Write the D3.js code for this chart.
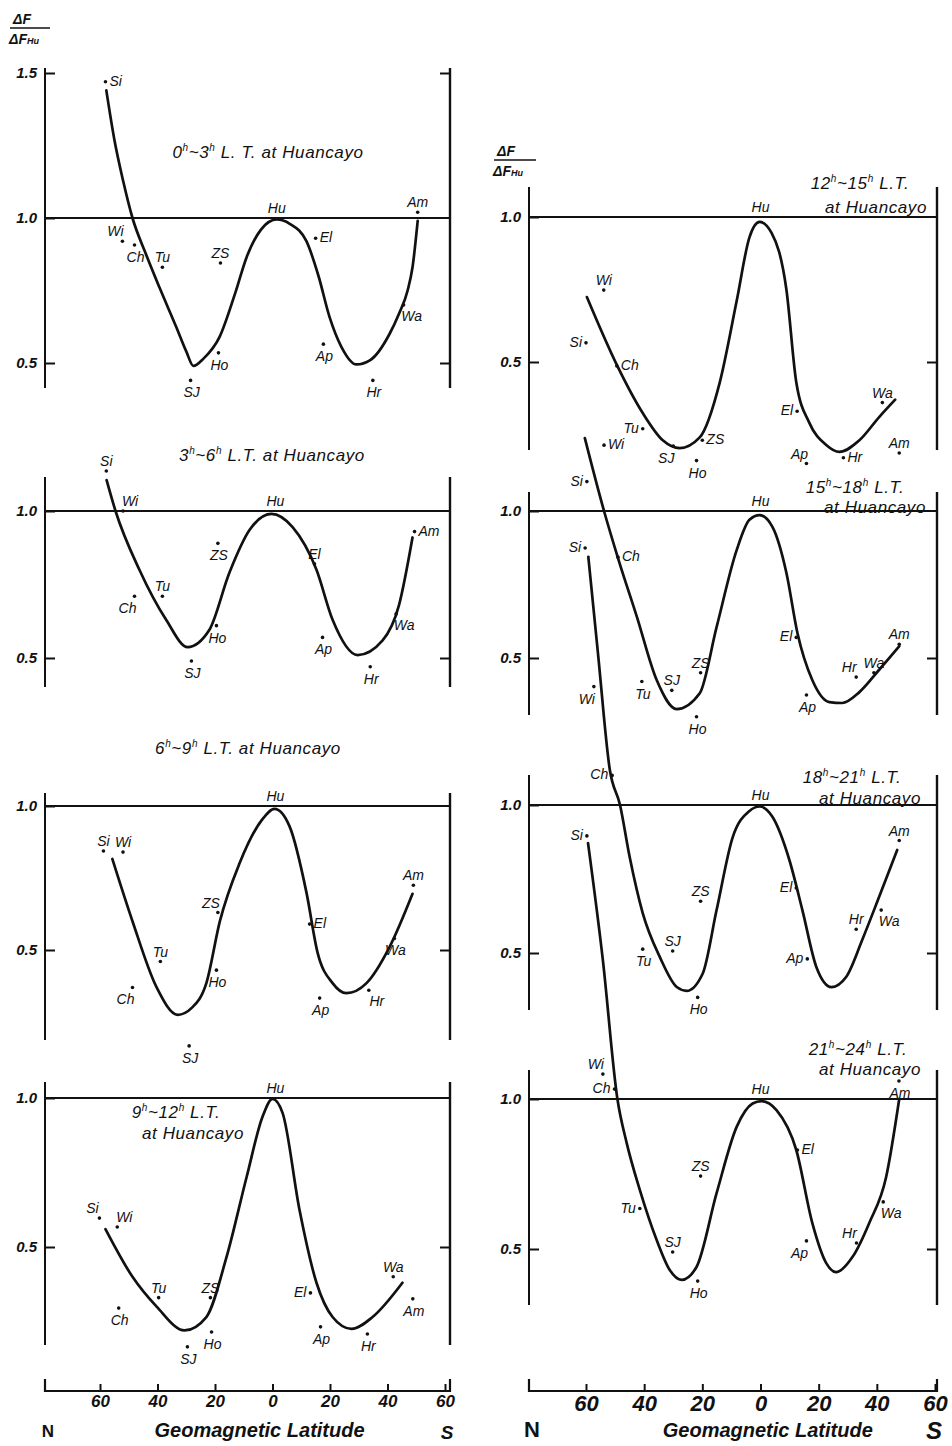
<!DOCTYPE html>
<html>
<head>
<meta charset="utf-8">
<script src="https://cdn.jsdelivr.net/npm/d3@7"></script>
<style>
  body { margin: 0; background: #fff; }
  text { font-family: "Liberation Sans", "DejaVu Sans", sans-serif; font-style: italic; fill: #111; }
</style>
</head>
<body>
<div id="chart"></div>
<script>
"use strict";

// station order used by every panel
var stations = ["Si", "Wi", "Ch", "Tu", "SJ", "Ho", "ZS", "Hu", "El", "Ap", "Hr", "Wa", "Am"];
// local time ranges at Huancayo, one per panel
var localTimes = [[0, 3], [3, 6], [6, 9], [9, 12], [12, 15], [15, 18], [18, 21], [21, 24]];
var timeLabels = ["L. T.", "L.T.", "L.T.", "L.T.", "L.T.", "L.T.", "L.T.", "L.T."];
var latTicks = [60, 40, 20, 0, -20, -40, -60];

// station points (geomagnetic latitude, N positive) and dF/dF_Hu
var lt00Lat = [58.1, 52.2, 48, 38.3, 28.5, 18.8, 18.1, -1.5, -15, -17.7, -34.9, -45.6, -50.5];
var lt00Val = [1.47, 0.92, 0.907, 0.83, 0.44, 0.535, 0.845, 1.0, 0.93, 0.565, 0.44, 0.70, 1.02];
var lt03Lat = [57.8, 52, 48, 38.3, 28.2, 19.5, 19, -1, -14.6, -17.4, -34, -43, -49.4];
var lt03Val = [1.136, 1.0, 0.71, 0.71, 0.49, 0.61, 0.89, 1.0, 0.82, 0.57, 0.47, 0.65, 0.93];
var lt06Lat = [58.8, 52, 48.7, 39, 29, 19.5, 19, -1, -12.9, -16.4, -33.5, -42.4, -49];
var lt06Val = [0.844, 0.84, 0.37, 0.46, 0.167, 0.43, 0.63, 1.0, 0.59, 0.333, 0.36, 0.54, 0.725];
var lt09Lat = [60.2, 54, 53.5, 39.6, 29.6, 21.2, 21.6, -1, -13.2, -16.7, -33, -42, -48.8];
var lt09Val = [0.597, 0.567, 0.295, 0.33, 0.165, 0.215, 0.33, 1.0, 0.346, 0.232, 0.208, 0.40, 0.326];
var lt12Lat = [60, 53.9, 49.4, 40.5, 30, 22, 20, 0, -12.6, -15.8, -28.5, -41.9, -47.7];
var lt12Val = [0.566, 0.748, 0.486, 0.27, 0.21, 0.16, 0.23, 1.0, 0.33, 0.15, 0.17, 0.36, 0.186];
var lt15Lat = [59.7, 53.8, 49, 40.8, 30.5, 22, 20.6, 0, -12.3, -15.8, -32.9, -39, -47.7];
var lt15Val = [1.10, 1.224, 0.843, 0.42, 0.39, 0.30, 0.45, 1.0, 0.57, 0.374, 0.435, 0.45, 0.547];
var lt18Lat = [60.3, 57.3, 51, 40.5, 30.2, 21.6, 20.6, 0, -12.3, -16.1, -32.9, -41.5, -47.7];
var lt18Val = [1.868, 1.40, 1.10, 0.513, 0.507, 0.35, 0.675, 1.0, 0.72, 0.48, 0.58, 0.645, 0.88];
var lt21Lat = [59.7, 54.2, 50.2, 41.5, 30.2, 21.6, 20.6, 0, -12.7, -15.8, -33, -42.2, -47.6];
var lt21Val = [1.877, 1.083, 1.033, 0.635, 0.49, 0.393, 0.743, 1.0, 0.83, 0.527, 0.52, 0.657, 1.06];

// hand drawn smooth curves, read as (latitude, value) points
var lt00Curve = [[57.8,1.44],[55,1.27],[52,1.13],[48.7,1.0],[44,0.875],[39.3,0.76],[33.3,0.62],[30,0.54],[27.5,0.49],[24,0.515],[18.4,0.59],[13,0.74],[9,0.865],[4,0.96],[-1.5,0.995],[-6,0.98],[-11.8,0.92],[-16,0.80],[-19.8,0.66],[-24,0.555],[-29.2,0.495],[-34,0.51],[-40.7,0.60],[-44,0.67],[-47,0.75],[-48.7,0.83],[-50.5,0.99]];
var lt03Curve = [[57.7,1.105],[54.6,1.0],[46.3,0.80],[37,0.63],[29.5,0.537],[22,0.595],[15,0.79],[8,0.935],[0.4,0.99],[-7,0.945],[-15.3,0.80],[-20.9,0.63],[-29.6,0.51],[-38.3,0.56],[-44,0.68],[-48.7,0.91]];
var lt06Curve = [[55.7,0.816],[48.7,0.60],[40.3,0.37],[33,0.275],[28,0.30],[23,0.385],[18.3,0.60],[11.5,0.80],[3.8,0.95],[-0.7,0.99],[-5.9,0.93],[-11.8,0.70],[-15.7,0.49],[-20.9,0.385],[-25.7,0.35],[-32.7,0.385],[-40.7,0.51],[-48.7,0.695]];
var lt09Curve = [[58.1,0.56],[48.7,0.40],[40.3,0.30],[30.6,0.22],[23,0.265],[16,0.466],[9,0.735],[3.5,0.936],[0,0.997],[-3.5,0.95],[-9.4,0.624],[-15.3,0.38],[-20.9,0.265],[-27.5,0.225],[-34.8,0.265],[-45.2,0.38]];
var lt12Curve = [[59.7,0.724],[49.4,0.49],[40.5,0.324],[33.6,0.23],[27.8,0.203],[20.9,0.24],[14,0.43],[8.2,0.71],[3.8,0.93],[0.3,0.983],[-3.8,0.945],[-8.9,0.75],[-12.3,0.43],[-16.8,0.29],[-22.6,0.214],[-27.1,0.19],[-34,0.23],[-40.8,0.31],[-46.3,0.37]];
var lt15Curve = [[60.4,1.248],[53.8,1.0],[49,0.84],[42.5,0.64],[35.7,0.425],[28.8,0.326],[20.9,0.38],[15.1,0.605],[8.2,0.867],[3.8,0.97],[0.3,0.986],[-4.1,0.946],[-8.9,0.79],[-12.7,0.585],[-17.8,0.425],[-23.7,0.35],[-28.1,0.347],[-34,0.384],[-40.8,0.46],[-47.7,0.54]];
var lt18Curve = [[59.2,1.838],[55.9,1.514],[51.8,1.118],[48.3,1.0],[45,0.825],[40.5,0.635],[34.6,0.486],[28.8,0.385],[25.4,0.372],[19.9,0.43],[15.1,0.645],[9.6,0.89],[3.8,0.98],[0.3,0.995],[-4.1,0.96],[-9.9,0.815],[-14.4,0.645],[-19.2,0.453],[-24.4,0.385],[-29.5,0.42],[-35,0.545],[-40.8,0.69],[-47,0.848]];
var lt21Curve = [[59.3,1.853],[54.2,1.463],[49.2,1.0],[46,0.853],[41.5,0.697],[35.7,0.53],[31.2,0.43],[27.1,0.397],[22,0.44],[15.1,0.686],[8.2,0.907],[2.7,0.985],[-0.3,0.993],[-5.5,0.963],[-12.3,0.83],[-17.8,0.587],[-22.6,0.453],[-26,0.423],[-31.6,0.473],[-37.4,0.587],[-43.2,0.74],[-47.7,1.0]];

// where each station name sits relative to its dot
var lt00Pos = ["r","al","b","a","b","b","a","a","r","b","b","br","a"];
var lt03Pos = ["a","ar","bl","a","b","b","b","a","a","b","b","br","r"];
var lt06Pos = ["a","a","bl","a","b","b","al","a","r","b","br","b","a"];
var lt09Pos = ["al","ar","b","a","b","b","a","a","l","b","b","a","b"];
var lt12Pos = ["l","a","r","l","bl","b","r","a","l","al","r","a","a"];
var lt15Pos = ["l","r","r","b","a","b","a","a","l","b","al","a","a"];
var lt18Pos = ["l","bl","l","b","a","b","a","a","l","l","a","br","a"];
var lt21Pos = ["l","al","l","l","a","b","a","a","r","bl","al","br","b"];

// panel frames (pixel layout)
var panels = [
  {lat: lt00Lat, val: lt00Val, curve: lt00Curve, pos: lt00Pos, col: 0, y10: 218, y05: 363, top: 68, bottom: 388, ticks: [1.5, 1.0, 0.5], title: [[268, 158]]},
  {lat: lt03Lat, val: lt03Val, curve: lt03Curve, pos: lt03Pos, col: 0, y10: 511, y05: 658, top: 477, bottom: 687, ticks: [1.0, 0.5], title: [[272, 461]]},
  {lat: lt06Lat, val: lt06Val, curve: lt06Curve, pos: lt06Pos, col: 0, y10: 806, y05: 950, top: 793, bottom: 1040, ticks: [1.0, 0.5], title: [[248, 754]]},
  {lat: lt09Lat, val: lt09Val, curve: lt09Curve, pos: lt09Pos, col: 0, y10: 1098, y05: 1247, top: 1082, bottom: 1345, ticks: [1.0, 0.5], title: [[176, 1118], [193, 1139]]},
  {lat: lt12Lat, val: lt12Val, curve: lt12Curve, pos: lt12Pos, col: 1, y10: 217, y05: 362, top: 187, bottom: 450, ticks: [1.0, 0.5], title: [[860, 189], [876, 213]]},
  {lat: lt15Lat, val: lt15Val, curve: lt15Curve, pos: lt15Pos, col: 1, y10: 511, y05: 658, top: 492, bottom: 715, ticks: [1.0, 0.5], title: [[855, 493], [875, 513]]},
  {lat: lt18Lat, val: lt18Val, curve: lt18Curve, pos: lt18Pos, col: 1, y10: 805, y05: 953, top: 775, bottom: 1010, ticks: [1.0, 0.5], title: [[852, 783], [870, 804]]},
  {lat: lt21Lat, val: lt21Val, curve: lt21Curve, pos: lt21Pos, col: 1, y10: 1099, y05: 1249, top: 1070, bottom: 1305, ticks: [1.0, 0.5], title: [[858, 1055], [870, 1075]]}
];

var cols = [
  {x: d3.scaleLinear().domain([60, -60]).range([100, 445]), left: 45, right: 450, axisY: 1391,
   labelSize: 17, nameLat: 4.5, ylab: [22, 28, 10, 50]},
  {x: d3.scaleLinear().domain([60, -60]).range([586, 935]), left: 529, right: 937, axisY: 1391,
   labelSize: 22, nameLat: -2.5, ylab: [506, 160, 494, 536]}
];

var offs = {a: [0, -5, "middle"], b: [1, 17, "middle"], l: [-4, 4, "end"], r: [4, 4, "start"],
            al: [-7, -5, "middle"], ar: [7, -5, "middle"], bl: [-7, 17, "middle"], br: [8, 16, "middle"]};

var svg = d3.select("#chart").append("svg")
  .attr("width", 952).attr("height", 1446)
  .style("background", "#fff");

function hourTitle(g, t, lt, cx, cy, oneLine) {
  var txt = g.append("text").attr("x", cx).attr("y", cy)
    .attr("text-anchor", "middle").style("font-size", "17px").style("letter-spacing", "0.6px");
  txt.append("tspan").text(t[0]);
  txt.append("tspan").attr("dy", -7).style("font-size", "10px").text("h");
  txt.append("tspan").attr("dy", 7).text("~" + t[1]);
  txt.append("tspan").attr("dy", -7).style("font-size", "10px").text("h");
  txt.append("tspan").attr("dy", 7).text(" " + lt + (oneLine ? " at Huancayo" : ""));
}

panels.forEach(function(p, i) {
  var c = cols[p.col];
  var x = c.x;
  var y = d3.scaleLinear().domain([0.5, 1.0]).range([p.y05, p.y10]);
  var g = svg.append("g");

  // left axis with inner ticks
  g.append("line").attr("x1", c.left).attr("x2", c.left).attr("y1", p.top).attr("y2", p.bottom)
    .attr("stroke", "#111").attr("stroke-width", 2);
  g.append("g").attr("transform", "translate(" + c.left + ",0)")
    .call(d3.axisLeft(y).tickValues(p.ticks).tickSizeInner(-10).tickSizeOuter(0).tickPadding(8)
      .tickFormat(d3.format(".1f")))
    .call(function(a) {
      a.select(".domain").remove();
      a.selectAll("line").attr("stroke", "#111").attr("stroke-width", 2);
      a.selectAll("text").style("font-size", "15px").style("font-weight", "bold")
        .style("font-family", '"Liberation Sans", sans-serif').attr("fill", "#111");
    });

  // right axis
  g.append("line").attr("x1", c.right).attr("x2", c.right).attr("y1", p.top).attr("y2", p.bottom)
    .attr("stroke", "#111").attr("stroke-width", 2.4);
  g.append("g").attr("transform", "translate(" + c.right + ",0)")
    .call(d3.axisRight(y).tickValues(p.ticks.filter(function(d) { return d !== 1.0; }))
      .tickSizeInner(-10).tickSizeOuter(0).tickFormat(""))
    .call(function(a) {
      a.select(".domain").remove();
      a.selectAll("line").attr("stroke", "#111").attr("stroke-width", 2);
    });

  // reference line at 1.0
  g.append("line").attr("x1", c.left).attr("x2", c.right).attr("y1", y(1.0)).attr("y2", y(1.0))
    .attr("stroke", "#111").attr("stroke-width", 1.8);

  // curve
  var line = d3.line()
    .x(function(d) { return x(d[0]); })
    .y(function(d) { return y(d[1]); })
    .curve(d3.curveMonotoneX);
  g.append("path").datum(p.curve)
    .attr("d", line).attr("fill", "none")
    .attr("stroke", "#111").attr("stroke-width", 2.7).attr("stroke-linecap", "round")
    .attr("stroke-linejoin", "round");

  // stations
  stations.forEach(function(s, k) {
    var px = x(p.lat[k]), py = y(p.val[k]);
    if (s !== "Hu") {
      g.append("circle").attr("cx", px).attr("cy", py).attr("r", 1.8).attr("fill", "#111");
    }
    var o = offs[p.pos[k]];
    g.append("text").attr("x", px + o[0]).attr("y", py + o[1])
      .attr("text-anchor", o[2]).style("font-size", "14px").text(s);
  });

  // title
  hourTitle(g, localTimes[i], timeLabels[i], p.title[0][0], p.title[0][1], p.title.length === 1);
  if (p.title.length > 1) {
    g.append("text").attr("x", p.title[1][0]).attr("y", p.title[1][1])
      .attr("text-anchor", "middle").style("font-size", "17px").style("letter-spacing", "0.6px")
      .text("at Huancayo");
  }
});

// latitude axes and labels
cols.forEach(function(c) {
  var g = svg.append("g");
  g.append("g").attr("transform", "translate(0," + c.axisY + ")")
    .call(d3.axisBottom(c.x).tickValues(latTicks).tickSizeInner(-7).tickSizeOuter(0).tickPadding(4)
      .tickFormat(function(d) { return Math.abs(d); }))
    .call(function(a) {
      a.select(".domain").remove();
      a.selectAll("line").attr("stroke", "#111").attr("stroke-width", 2);
      a.selectAll("text").style("font-size", c.labelSize + "px").style("font-weight", "bold")
        .style("font-family", '"Liberation Sans", sans-serif').attr("fill", "#111");
    });
  g.append("path")
    .attr("d", "M" + c.left + "," + (c.axisY - 12) + "V" + c.axisY + "H" + c.right + "V" + (c.axisY - 12))
    .attr("fill", "none").attr("stroke", "#111").attr("stroke-width", 2.2);
  g.append("text").attr("x", c.left + 3).attr("y", c.axisY + 46).attr("text-anchor", "middle")
    .style("font-size", c.labelSize + "px").style("font-style", "normal").style("font-weight", "bold").text("N");
  g.append("text").attr("x", c.right - 3).attr("y", c.axisY + 48).attr("text-anchor", "middle")
    .style("font-size", (c.labelSize + 2) + "px").style("font-weight", "bold").text("S");
  g.append("text").attr("x", c.x(c.nameLat)).attr("y", c.axisY + 46).attr("text-anchor", "middle")
    .style("font-size", "20px").style("font-weight", "bold").text("Geomagnetic Latitude");

  // y label dF / dF_Hu
  var yl = svg.append("g");
  yl.append("text").attr("x", c.ylab[0]).attr("y", c.ylab[1] - 4).attr("text-anchor", "middle")
    .style("font-size", "14px").style("font-weight", "bold").text("\u0394F");
  yl.append("line").attr("x1", c.ylab[2]).attr("x2", c.ylab[3]).attr("y1", c.ylab[1]).attr("y2", c.ylab[1])
    .attr("stroke", "#111").attr("stroke-width", 1.6);
  var t = yl.append("text").attr("x", c.ylab[0] + 2).attr("y", c.ylab[1] + 16).attr("text-anchor", "middle")
    .style("font-size", "14px").style("font-weight", "bold");
  t.append("tspan").text("\u0394F");
  t.append("tspan").style("font-size", "9px").text("Hu");
});
</script>
</body>
</html>
